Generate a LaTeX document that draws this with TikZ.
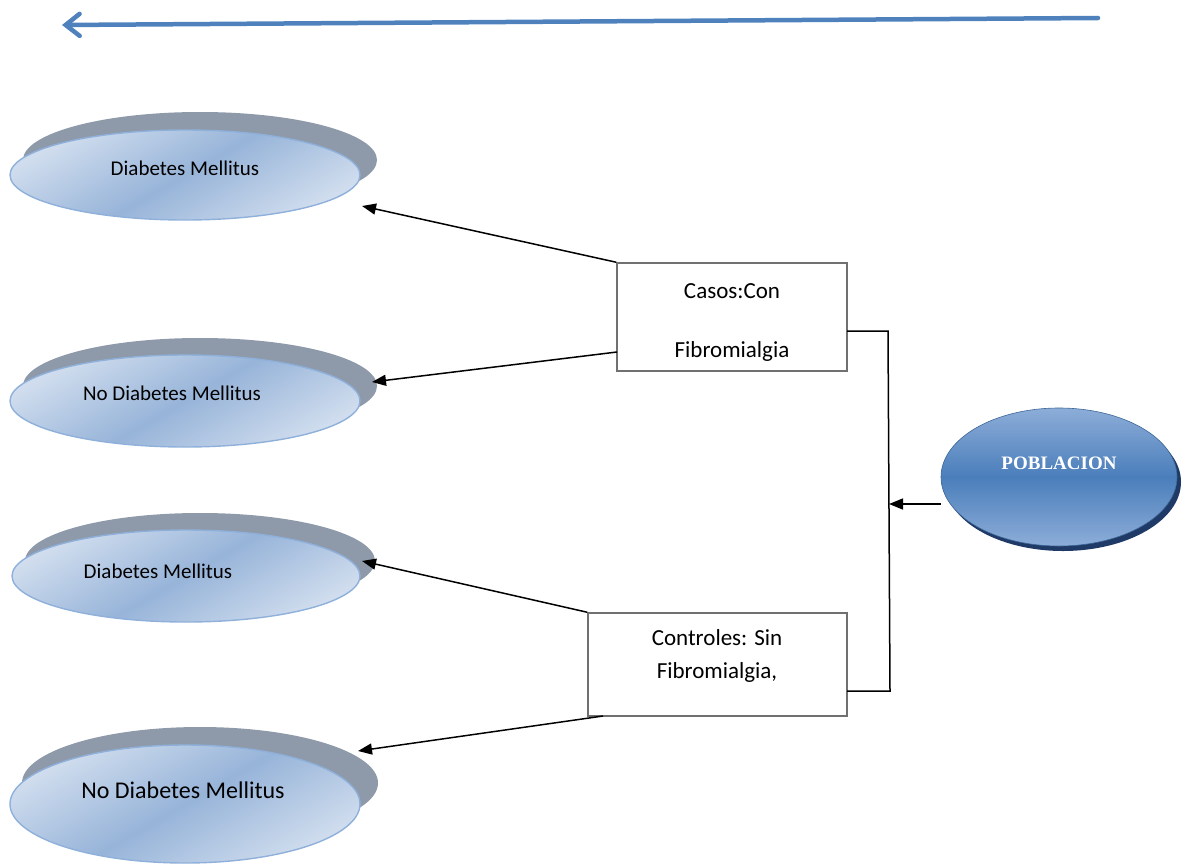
\documentclass[tikz,border=0pt]{standalone}
\usepackage{fontspec}
\setmainfont{Carlito}
\newfontfamily\titlefont{Liberation Serif}
\usetikzlibrary{shapes.geometric,arrows.meta}
\definecolor{shadowgray}{HTML}{8E9AA9}
\definecolor{ellline}{HTML}{8FB0DA}
\definecolor{elllight}{HTML}{D0DDEE}
\definecolor{elldark}{HTML}{97B4D9}
\definecolor{popblue}{HTML}{4A7EBB}
\definecolor{poplight}{HTML}{8DADD8}
\definecolor{popshadow}{HTML}{1F3A66}
\definecolor{topblue}{HTML}{4F81BD}
\definecolor{boxgray}{HTML}{707070}
\tikzset{
  shadowell/.style={ellipse, fill=shadowgray, draw=none, inner sep=0pt},
  mainell/.style={ellipse, draw=ellline, line width=1.4pt, inner sep=0pt,
    top color=elllight, bottom color=elllight, middle color=elldark, shading angle=30},
  textbox/.style={draw=boxgray, line width=1.5pt, fill=white, inner sep=0pt},
  conn/.style={line width=1.5pt, -{Triangle[length=14pt,width=11pt]}},
  bracket/.style={line width=1.5pt},
  elltext/.style={font=\fontsize{21}{25}\selectfont},
  boxtext/.style={font=\fontsize{23}{27}\selectfont}
}
\begin{document}
\begin{tikzpicture}[x=1pt,y=-1pt]
\useasboundingbox (0,0) rectangle (1185,867);
% top arrow
\coordinate (tr) at (1098,18);
\coordinate (tl) at (62,25);
\draw[topblue, line width=4.5pt, line cap=round, -{Straight Barb[length=14pt,width=22pt,line cap=round]}] (tr) -- (tl);

% ellipses (shadows then main)
\node[shadowell, minimum width=354pt, minimum height=96pt] (s1) at (200,160) {};
\node[mainell, minimum width=350pt, minimum height=90pt] (e1) at (185,175) {};
\node[elltext] (t1) at (185,168) {Diabetes Mellitus};

\node[shadowell, minimum width=354pt, minimum height=96pt] (s2) at (200,386) {};
\node[mainell, minimum width=350pt, minimum height=92pt] (e2) at (185,401) {};
\node[elltext] (t2) at (172,393) {No Diabetes Mellitus};

\node[shadowell, minimum width=350pt, minimum height=96pt] (s3) at (200,561) {};
\node[mainell, minimum width=348pt, minimum height=92pt] (e3) at (186,576) {};
\node[elltext] (t3) at (158,571) {Diabetes Mellitus};

\node[shadowell, minimum width=356pt, minimum height=112pt] (s4) at (200,783) {};
\node[mainell, minimum width=350pt, minimum height=118pt] (e4) at (185,804) {};
\node[font=\fontsize{24}{28}\selectfont] (t4) at (183,790) {No Diabetes Mellitus};

% POBLACION
\node[ellipse, fill=popshadow, inner sep=0pt, minimum width=236pt, minimum height=138pt] (ps) at (1063,482) {};
\node[ellipse, inner sep=0pt, minimum width=236pt, minimum height=138pt,
  top color=poplight, bottom color=poplight, middle color=popblue, draw=popblue!80!black, line width=0.6pt] (pob) at (1059,477) {};
\node[text=white] (pt) at (1059,463) {\titlefont\bfseries\fontsize{19}{22}\selectfont POBLACION};

% boxes
\node[textbox, minimum width=230pt, minimum height=108pt] (casos) at (732,317) {};
\node[boxtext] (ct1) at (732,291) {Casos:Con};
\node[boxtext] (ct2) at (732,351) {Fibromialgia};

\node[textbox, minimum width=259pt, minimum height=103pt] (ctrl) at (717.5,664.5) {};
\node[boxtext] (dt1) at (717,638) {Controles: Sin};
\node[boxtext] (dt2) at (717,672) {Fibromialgia,};

% connector points
\coordinate (c1s) at (casos.north west);
\coordinate (c2s) at (617,352);
\coordinate (d1s) at (ctrl.north west);
\coordinate (d2s) at (603,716);
\coordinate (a1) at (362,206);
\coordinate (a2) at (372,382);
\coordinate (a3) at (362,561);
\coordinate (a4) at (358,751);

\draw[conn] (c1s) -- (a1);
\draw[conn] (c2s) -- (a2);
\draw[conn] (d1s) -- (a3);
\draw[conn] (d2s) -- (a4);

% bracket
\coordinate (b1) at (847,331);
\coordinate (b2) at (888,331);
\coordinate (b3) at (890,691);
\coordinate (b4) at (847,691);
\coordinate (bm) at (889,504);
\draw[bracket] (b1) -- (b2) -- (b3) -- (b4);
\draw[conn] (pob.west |- 0,504) -- (bm);
\end{tikzpicture}
\end{document}
